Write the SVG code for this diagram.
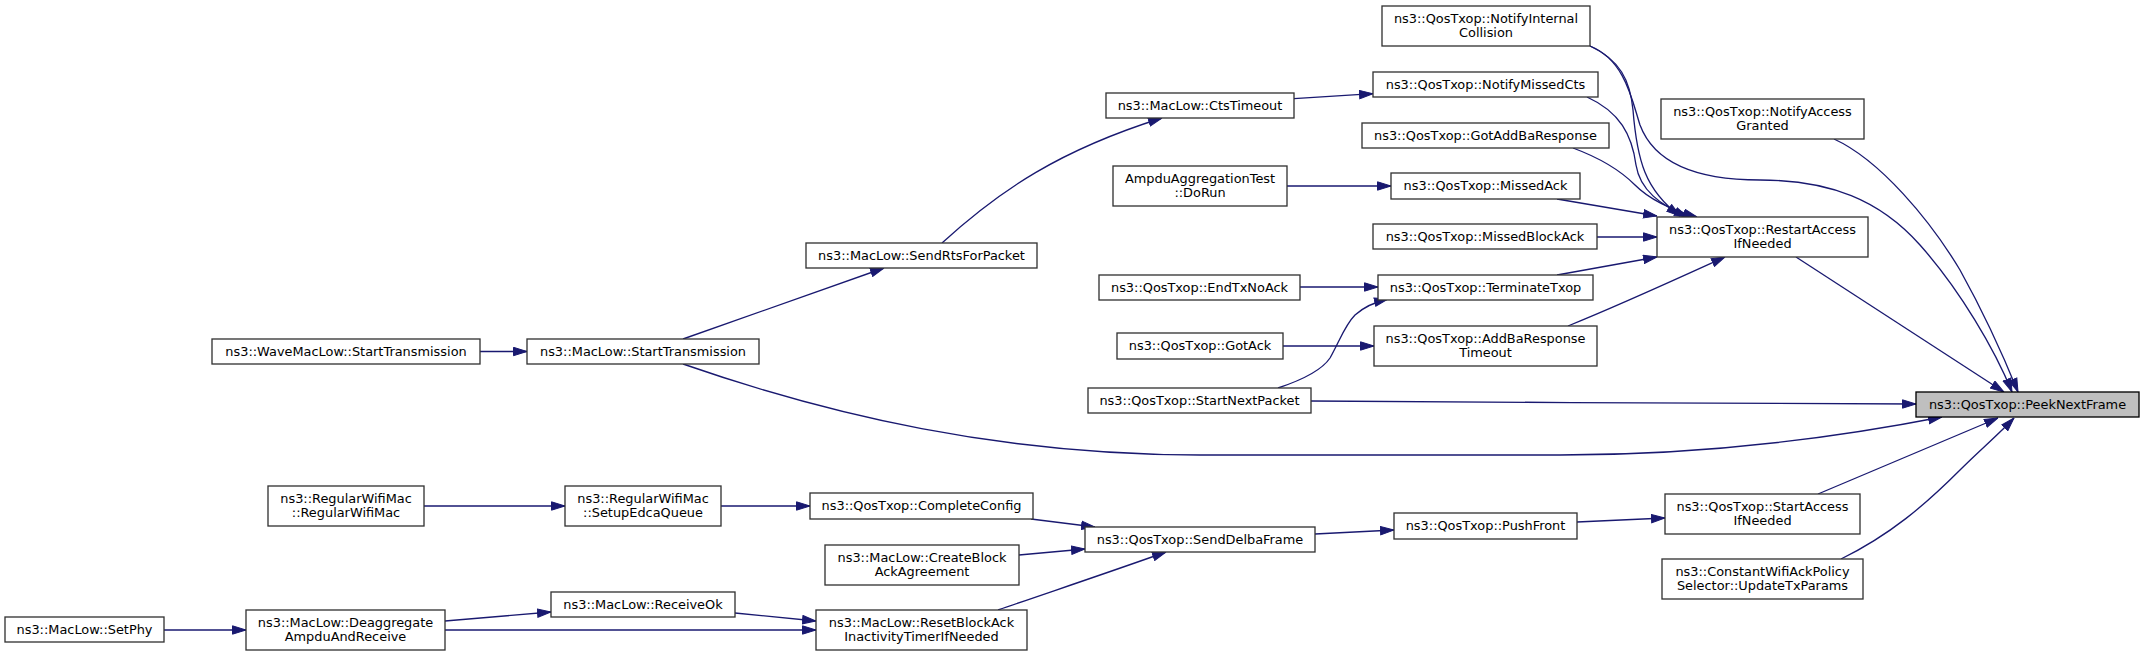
<svg xmlns="http://www.w3.org/2000/svg" width="2144" height="656" viewBox="0 0 2144 656">
<style>
.n rect{fill:#fff;stroke:#333;stroke-width:1.33}
.n.root rect{fill:#bfbfbf;stroke:#000}
.n text{font-family:"DejaVu Sans",sans-serif;font-size:12.9px;fill:#000;text-anchor:middle}
.e path{fill:none;stroke:#191970;stroke-width:1.33;marker-end:url(#arr)}
</style>
<defs>
<marker id="arr" markerUnits="userSpaceOnUse" markerWidth="14" markerHeight="10" refX="14" refY="4.7" orient="auto" viewBox="0 0 14 9.4">
<path d="M0.5,0.5 L14,4.7 L0.5,8.9 z" fill="#191970" stroke="#191970" stroke-width="1"/>
</marker>
</defs>
<rect width="2144" height="656" fill="#fff"/>
<g id="edges" class="e">
<path d="M164,630 L246,630"/>
<path d="M445,621 L551,612"/>
<path d="M445,630 L816,630"/>
<path d="M735,613 L816,621"/>
<path d="M424,506 L565,506"/>
<path d="M721,506 L810,506"/>
<path d="M480,351.5 L527,351.5"/>
<path d="M683,339 L884,268"/>
<path d="M683,364 C830,415 1000,455 1200,455 L1560,455 C1720,455 1850,435 1942,417"/>
<path d="M942,243 C1000,190 1060,150 1162,118"/>
<path d="M1294,98.7 L1373,93.7"/>
<path d="M1287,186 L1391,186"/>
<path d="M1300,287 L1378,287"/>
<path d="M1278,388 C1305,379 1322,370 1330,358 C1340,340 1345,325 1355,315 C1365,306 1375,302 1388,299"/>
<path d="M1283,346 L1374,346"/>
<path d="M1311,401 C1500,402 1750,404 1916,404"/>
<path d="M1031,519 L1095,527"/>
<path d="M1019,555 L1085,549"/>
<path d="M998,610 C1050,592 1110,572 1166,552"/>
<path d="M1315,534 L1394,530"/>
<path d="M1577,522 L1665,518"/>
<path d="M1818,494 L1998,418"/>
<path d="M1841,559 C1890,535 1925,505 1960,470 C1980,450 1998,435 2014,418"/>
<path d="M1796,257 L2004,392"/>
<path d="M1834,139 C1880,160 1930,220 1960,270 C1985,315 2005,360 2018,392"/>
<path d="M1590,46 C1625,60 1632,100 1640,125 C1655,165 1700,180 1760,180 C1830,180 1880,200 1920,245 C1960,290 1995,350 2012,392"/>
<path d="M1590,46 C1620,60 1630,80 1633,110 C1637,160 1645,190 1680,216"/>
<path d="M1587,97 C1620,112 1632,135 1636,165 C1640,190 1660,205 1688,217"/>
<path d="M1573,148 C1600,158 1620,170 1635,185 C1650,200 1672,210 1697,217"/>
<path d="M1557,199 L1657,216"/>
<path d="M1597,237 L1657,237"/>
<path d="M1557,275 L1657,257"/>
<path d="M1568,326 C1620,305 1670,282 1725,257"/>
</g>
<g id="n_setphy" class="n"><rect x="5" y="617" width="159" height="25"/><text x="84.5" y="633.8">ns3::MacLow::SetPhy</text></g>
<g id="n_deagg" class="n"><rect x="246" y="610" width="199" height="40"/><text x="345.5" y="626.5">ns3::MacLow::Deaggregate</text><text x="345.5" y="641">AmpduAndReceive</text></g>
<g id="n_wave" class="n"><rect x="212" y="339" width="268" height="25"/><text x="346" y="355.8">ns3::WaveMacLow::StartTransmission</text></g>
<g id="n_rwm" class="n"><rect x="268" y="486" width="156" height="40"/><text x="346" y="502.5">ns3::RegularWifiMac</text><text x="346" y="517">::RegularWifiMac</text></g>
<g id="n_starttx" class="n"><rect x="527" y="339" width="232" height="25"/><text x="643" y="355.8">ns3::MacLow::StartTransmission</text></g>
<g id="n_setupedca" class="n"><rect x="565" y="486" width="156" height="40"/><text x="643" y="502.5">ns3::RegularWifiMac</text><text x="643" y="517">::SetupEdcaQueue</text></g>
<g id="n_receiveok" class="n"><rect x="551" y="592" width="184" height="25"/><text x="643" y="608.8">ns3::MacLow::ReceiveOk</text></g>
<g id="n_sendrts" class="n"><rect x="806" y="243" width="231" height="25"/><text x="921.5" y="259.8">ns3::MacLow::SendRtsForPacket</text></g>
<g id="n_completeconfig" class="n"><rect x="810" y="493" width="223" height="26"/><text x="921.5" y="510.3">ns3::QosTxop::CompleteConfig</text></g>
<g id="n_createblock" class="n"><rect x="825" y="545" width="194" height="40"/><text x="922" y="561.5">ns3::MacLow::CreateBlock</text><text x="922" y="576">AckAgreement</text></g>
<g id="n_resetblock" class="n"><rect x="816" y="610" width="211" height="40"/><text x="921.5" y="626.5">ns3::MacLow::ResetBlockAck</text><text x="921.5" y="641">InactivityTimerIfNeeded</text></g>
<g id="n_ctstimeout" class="n"><rect x="1106" y="93" width="188" height="25"/><text x="1200" y="109.8">ns3::MacLow::CtsTimeout</text></g>
<g id="n_dorun" class="n"><rect x="1113" y="166" width="174" height="40"/><text x="1200" y="182.5">AmpduAggregationTest</text><text x="1200" y="197">::DoRun</text></g>
<g id="n_endtxnoack" class="n"><rect x="1099" y="275" width="201" height="25"/><text x="1199.5" y="291.8">ns3::QosTxop::EndTxNoAck</text></g>
<g id="n_gotack" class="n"><rect x="1117" y="333" width="166" height="26"/><text x="1200" y="350.3">ns3::QosTxop::GotAck</text></g>
<g id="n_startnext" class="n"><rect x="1088" y="388" width="223" height="25"/><text x="1199.5" y="404.8">ns3::QosTxop::StartNextPacket</text></g>
<g id="n_senddelba" class="n"><rect x="1085" y="527" width="230" height="25"/><text x="1200" y="543.8">ns3::QosTxop::SendDelbaFrame</text></g>
<g id="n_nic" class="n"><rect x="1382" y="6" width="208" height="40"/><text x="1486" y="22.5">ns3::QosTxop::NotifyInternal</text><text x="1486" y="37">Collision</text></g>
<g id="n_nmc" class="n"><rect x="1373" y="72" width="225" height="25"/><text x="1485.5" y="88.8">ns3::QosTxop::NotifyMissedCts</text></g>
<g id="n_gotaddba" class="n"><rect x="1362" y="123" width="247" height="25"/><text x="1485.5" y="139.8">ns3::QosTxop::GotAddBaResponse</text></g>
<g id="n_missedack" class="n"><rect x="1391" y="173" width="189" height="26"/><text x="1485.5" y="190.3">ns3::QosTxop::MissedAck</text></g>
<g id="n_missedblock" class="n"><rect x="1373" y="224" width="224" height="25"/><text x="1485" y="240.8">ns3::QosTxop::MissedBlockAck</text></g>
<g id="n_terminate" class="n"><rect x="1378" y="275" width="215" height="25"/><text x="1485.5" y="291.8">ns3::QosTxop::TerminateTxop</text></g>
<g id="n_addbatimeout" class="n"><rect x="1374" y="326" width="223" height="40"/><text x="1485.5" y="342.5">ns3::QosTxop::AddBaResponse</text><text x="1485.5" y="357">Timeout</text></g>
<g id="n_pushfront" class="n"><rect x="1394" y="513" width="183" height="26"/><text x="1485.5" y="530.3">ns3::QosTxop::PushFront</text></g>
<g id="n_nag" class="n"><rect x="1661" y="99" width="203" height="40"/><text x="1762.5" y="115.5">ns3::QosTxop::NotifyAccess</text><text x="1762.5" y="130">Granted</text></g>
<g id="n_restart" class="n"><rect x="1657" y="217" width="211" height="40"/><text x="1762.5" y="233.5">ns3::QosTxop::RestartAccess</text><text x="1762.5" y="248">IfNeeded</text></g>
<g id="n_startaccess" class="n"><rect x="1665" y="494" width="195" height="40"/><text x="1762.5" y="510.5">ns3::QosTxop::StartAccess</text><text x="1762.5" y="525">IfNeeded</text></g>
<g id="n_constant" class="n"><rect x="1662" y="559" width="201" height="40"/><text x="1762.5" y="575.5">ns3::ConstantWifiAckPolicy</text><text x="1762.5" y="590">Selector::UpdateTxParams</text></g>
<g id="n_peek" class="n root"><rect x="1916" y="392" width="223" height="25"/><text x="2027.5" y="408.8">ns3::QosTxop::PeekNextFrame</text></g>
</svg>
